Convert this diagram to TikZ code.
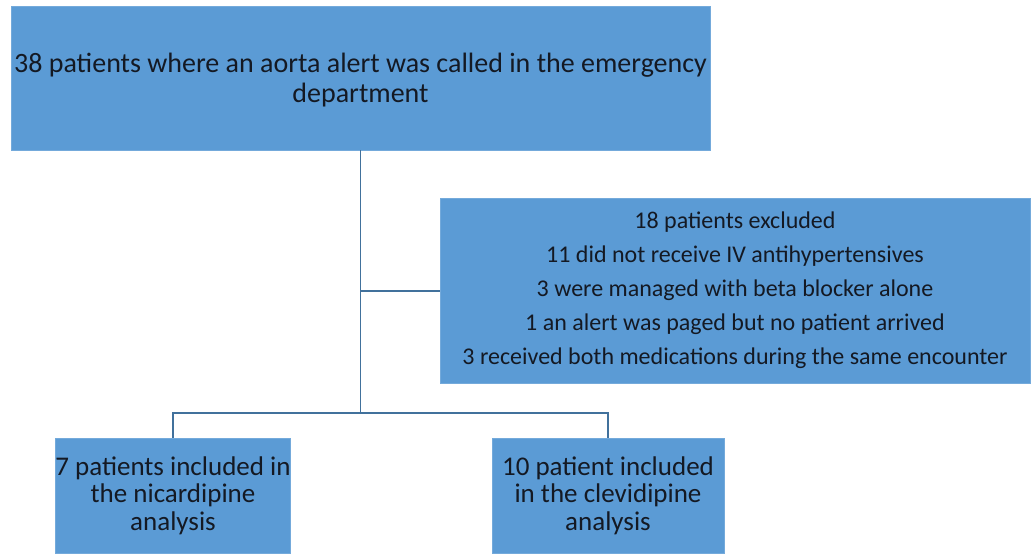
\documentclass[tikz,border=0pt]{standalone}
\usepackage{fontspec}
\setmainfont{Carlito}
\definecolor{boxfill}{RGB}{91,155,213}
\definecolor{linecol}{RGB}{65,113,156}
\definecolor{txt}{RGB}{20,25,35}
\begin{document}
\begin{tikzpicture}[x=1pt,y=-1pt,
  box/.style={fill=boxfill,draw=boxfill!85!white,line width=0.6pt,inner sep=0pt,text=txt,align=center},
  conn/.style={draw=linecol,line width=1.8pt}]
\useasboundingbox (0,0) rectangle (1034,555);
\node[box,minimum width=699pt,minimum height=144pt] (top) at (360.5,78) {};
\node[text=txt,align=center,font=\fontsize{28}{30}\selectfont,inner sep=0pt] (toptext) at (360.5,80)
  {38 patients where an aorta alert was called in the emergency\\department};
\node[box,minimum width=590pt,minimum height=185pt,font=\fontsize{24}{34}\selectfont] (excl) at (735,290.5)
  {18 patients excluded\\11 did not receive IV antihypertensives\\3 were managed with beta blocker alone\\1 an alert was paged but no patient arrived\\3 received both medications during the same encounter};
\node[box,minimum width=232pt,minimum height=115pt,font=\fontsize{27}{27.5}\selectfont] (nic) at (173,495.5)
  {7 patients included in\\the nicardipine\\analysis};
\node[box,minimum width=232pt,minimum height=115pt,font=\fontsize{27}{27.5}\selectfont] (clev) at (608,495.5)
  {10 patient included\\in the clevidipine\\analysis};
\coordinate (junc) at (360.5,413);
\coordinate (split) at (360.5,291);
\draw[conn] (top.south) -- (junc);
\draw[conn] (split) -- (split -| excl.west);
\draw[conn] (nic.north) -- (nic.north |- junc) -- (clev.north |- junc) -- (clev.north);
\end{tikzpicture}
\end{document}
